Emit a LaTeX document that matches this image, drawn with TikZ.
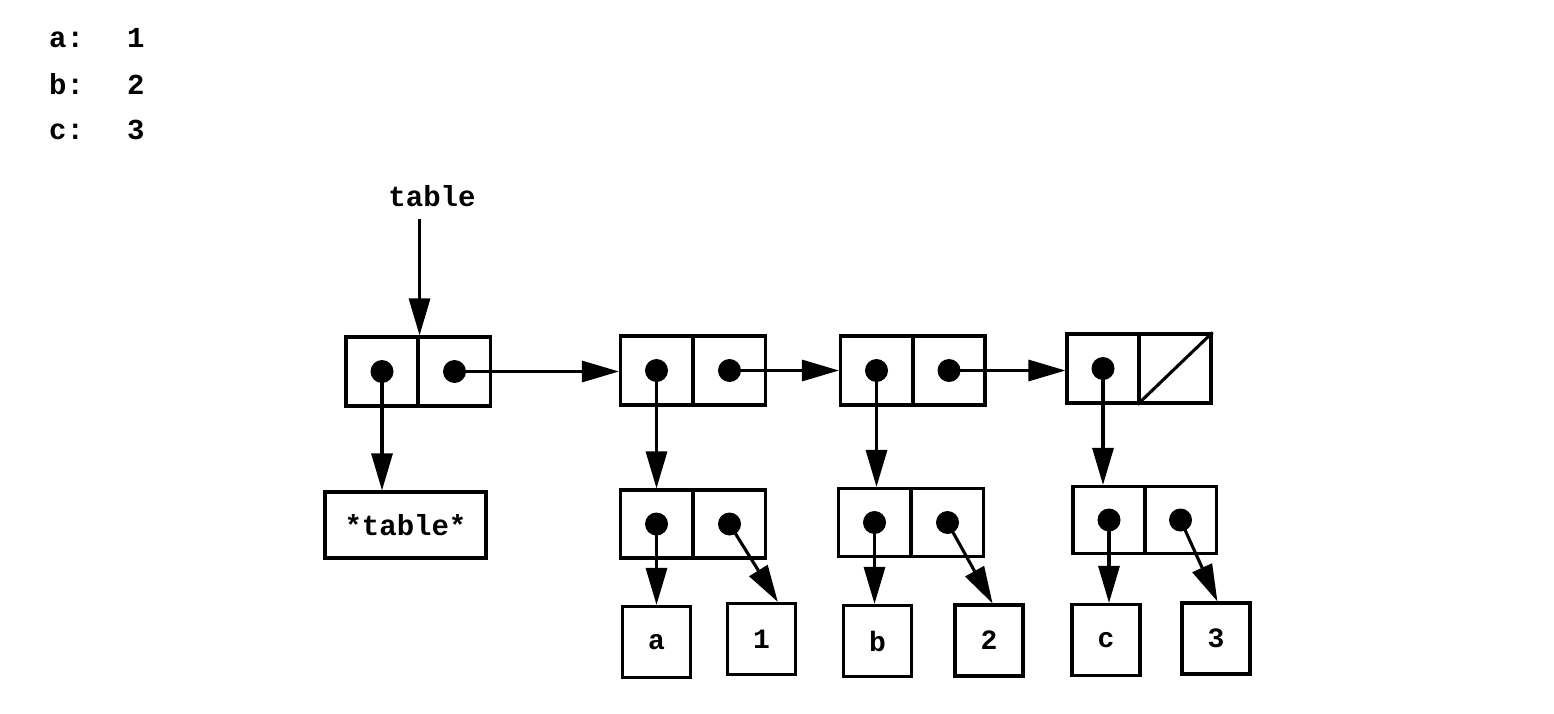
\documentclass[tikz,border=0pt]{standalone}
\usepackage{fontspec}
\setmonofont{Liberation Mono}
\usetikzlibrary{arrows.meta,calc}
\begin{document}
\begin{tikzpicture}[x=1pt,y=-1pt,
  half/.style={draw,line width=3.1pt,minimum width=72pt,minimum height=69pt,inner sep=0pt},
  leaf/.style={draw,line width=3.1pt,minimum width=68pt,minimum height=71pt,inner sep=0pt,font=\ttfamily\bfseries\fontsize{28}{30}\selectfont},
  txt/.style={font=\ttfamily\bfseries\fontsize{29}{32}\selectfont,inner sep=0pt},
  arr/.style={line width=3.1pt,-{Triangle[length=37pt,width=21pt]}},
  dotr/.style={fill=black}]
\useasboundingbox (0,0) rectangle (1554,714);
% legend
\node[txt,anchor=base west] (la) at (49,48) {a:};
\node[txt,anchor=base west] (l1) at (127,48) {1};
\node[txt,anchor=base west] (lb) at (49,95) {b:};
\node[txt,anchor=base west] (l2) at (127,95) {2};
\node[txt,anchor=base west] (lc) at (49,140) {c:};
\node[txt,anchor=base west] (l3) at (127,140) {3};
% top row
\node[half] (c1l) at (382,371.5) {};
\node[half] (c1r) at (454.5,371.5) {};
\node[half] (c2l) at (656.5,370.5) {};
\node[half] (c2r) at (729.5,370.5) {};
\node[half] (c3l) at (876.5,370.5) {};
\node[half] (c3r) at (949,370.5) {};
\node[half] (c4l) at (1103,368.5) {};
\node[half] (c4r) at (1175,368.5) {};
\draw[line width=3.1pt] (c4r.south west) -- (c4r.north east);
% middle row
\node[draw,line width=3.1pt,minimum width=161pt,minimum height=66pt,inner sep=0pt,font=\ttfamily\bfseries\fontsize{29}{32}\selectfont] (tab) at (405.5,525) {*table*};
\node[half,minimum height=68pt] (ml) at (656.5,524) {};
\node[half,minimum height=68pt] (mr) at (729.5,524) {};
\node[half,minimum height=68pt] (nl) at (874.5,522.5) {};
\node[half,minimum height=68pt] (nr) at (947.5,522.5) {};
\node[half,minimum height=67pt] (ol) at (1109,520) {};
\node[half,minimum height=67pt] (or) at (1180.5,520) {};
% bottom row
\node[leaf] (ka) at (656.5,642) {a};
\node[leaf] (k1) at (761.5,639) {1};
\node[leaf] (kb) at (877.5,641) {b};
\node[leaf] (k2) at (989,640.5) {2};
\node[leaf] (kc) at (1106,640) {c};
\node[leaf] (k3) at (1216,638.5) {3};
% label
\node[txt] (tl) at (432,196) {table};
\coordinate (tstart) at ($(tl.south -| c1l.north east)+(0,12)$);
\draw[arr] (tstart) -- (c1l.north east);
% arrows
\draw[arr] (c1l.center) -- (tab.north -| c1l.center);
\draw[arr] (c1r.center) -- (c2l.west |- c1r.center);
\draw[arr] (c2l.center) -- (ml.north -| c2l.center);
\draw[arr] (c2r.center) -- (c3l.west |- c2r.center);
\draw[arr] (c3l.center) -- (nl.north -| c3l.center);
\draw[arr] (c3r.center) -- (c4l.west |- c3r.center);
\draw[arr] (c4l.center) -- (ol.north -| c4l.center);
\draw[arr] (ml.center) -- (ka.north -| ml.center);
\draw[arr] (mr.center) -- ($(k1.north west)!0.73!(k1.north east)$);
\draw[arr] (nl.center) -- (kb.north -| nl.center);
\draw[arr] (nr.center) -- ($(k2.north west)!0.55!(k2.north east)$);
\draw[arr] (ol.center) -- (kc.north -| ol.center);
\draw[arr] (or.center) -- ($(k3.north west)!0.52!(k3.north east)$);
% dots
\foreach \n in {c1l,c1r,c2l,c2r,c3l,c3r,c4l,ml,mr,nl,nr,ol,or}
  \fill[dotr] (\n.center) circle (11.5pt);
\end{tikzpicture}
\end{document}
